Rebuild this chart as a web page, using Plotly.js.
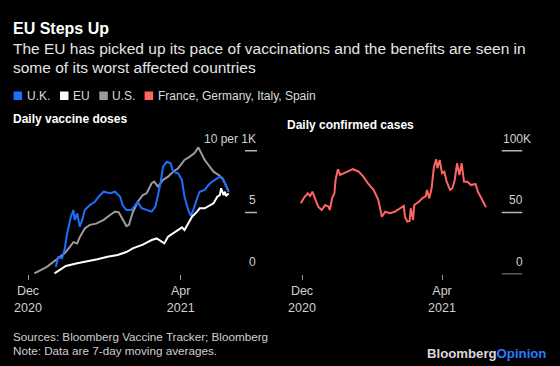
<!DOCTYPE html>
<html>
<head>
<meta charset="utf-8">
<script src="https://cdn.plot.ly/plotly-3.0.1.min.js"></script>
<style>
  html, body { margin: 0; padding: 0; background: #000; }
  #chart { width: 560px; height: 366px; }
</style>
</head>
<body>
<div id="chart"></div>
<script>
// ---------- DATA ----------
const seriesNames = ['U.K.', 'EU', 'U.S.', 'France, Germany, Italy, Spain'];
const seriesColors = ['#1f6fff', '#ffffff', '#9b9b9b', '#ff6464'];

// Daily vaccine doses per 1K people (7-day avg)
const ukDates = ['2020-12-23','2020-12-25','2020-12-28','2020-12-30','2021-01-01','2021-01-02','2021-01-04','2021-01-06','2021-01-07','2021-01-09','2021-01-11','2021-01-13','2021-01-15','2021-01-19','2021-01-23','2021-01-27','2021-01-30','2021-02-04','2021-02-08','2021-02-12','2021-02-14','2021-02-17','2021-02-21','2021-02-24','2021-02-26','2021-03-01','2021-03-05','2021-03-09','2021-03-12','2021-03-16','2021-03-18','2021-03-21','2021-03-24','2021-03-26','2021-03-30','2021-04-02','2021-04-04','2021-04-07','2021-04-09','2021-04-11','2021-04-14','2021-04-16','2021-04-20','2021-04-23','2021-04-26','2021-04-30','2021-05-02','2021-05-05','2021-05-07','2021-05-09'];
const ukValues = [0.6,1.4,1.3,2.0,3.3,3.85,4.66,5.2,4.4,4.93,3.85,4.4,5.2,5.6,5.87,6.4,6.68,6.55,6.68,6.28,5.6,5.2,5.2,5.6,5.87,5.34,5.2,5.07,5.47,7.36,8.7,9.1,8.98,8.3,8.17,7.63,6.28,5.2,4.72,5.2,6.15,6.68,6.82,7.22,7.5,7.77,7.9,7.63,7.09,6.68];

const euDates = ['2020-12-22','2020-12-26','2020-12-31','2021-01-09','2021-01-17','2021-01-25','2021-02-02','2021-02-10','2021-02-17','2021-02-22','2021-03-02','2021-03-09','2021-03-13','2021-03-17','2021-03-19','2021-03-22','2021-03-26','2021-03-30','2021-04-02','2021-04-04','2021-04-07','2021-04-10','2021-04-14','2021-04-16','2021-04-20','2021-04-24','2021-04-27','2021-04-30','2021-05-02','2021-05-03','2021-05-05','2021-05-06','2021-05-07','2021-05-09'];
const euValues = [0.08,0.35,0.67,0.89,1.02,1.21,1.42,1.56,1.8,2.1,2.4,2.77,2.9,2.64,2.5,3.04,3.3,3.58,3.8,3.58,4.13,4.66,5.07,5.34,5.34,5.6,5.74,6.28,6.4,6.96,6.4,6.68,6.33,6.55];

const usDates = ['2020-12-06','2020-12-11','2020-12-16','2020-12-21','2020-12-25','2020-12-30','2021-01-03','2021-01-06','2021-01-09','2021-01-11','2021-01-15','2021-01-19','2021-01-24','2021-01-30','2021-02-04','2021-02-08','2021-02-11','2021-02-14','2021-02-17','2021-02-19','2021-02-22','2021-02-26','2021-03-02','2021-03-05','2021-03-09','2021-03-11','2021-03-14','2021-03-18','2021-03-22','2021-03-26','2021-03-30','2021-04-02','2021-04-04','2021-04-08','2021-04-12','2021-04-15','2021-04-17','2021-04-20','2021-04-23','2021-04-27','2021-05-01','2021-05-04','2021-05-06','2021-05-09'];
const usValues = [0.08,0.35,0.6,1.0,1.3,1.7,2.2,2.6,2.5,3.0,3.7,4.0,4.1,4.4,4.8,5.07,5.0,4.5,3.9,4.0,5.0,5.87,6.4,6.55,7.36,7.5,7.09,7.63,7.9,8.3,8.58,8.98,9.25,9.5,9.8,10.27,9.9,9.25,8.84,8.3,8.03,7.77,7.36,6.68];

// Daily confirmed cases, thousands (France, Germany, Italy, Spain)
const casesDates = ['2020-11-30','2020-12-03','2020-12-06','2020-12-08','2020-12-10','2020-12-12','2020-12-15','2020-12-18','2020-12-21','2020-12-24','2020-12-25','2020-12-27','2020-12-29','2020-12-30','2021-01-01','2021-01-03','2021-01-06','2021-01-10','2021-01-14','2021-01-19','2021-01-23','2021-01-27','2021-02-01','2021-02-05','2021-02-08','2021-02-11','2021-02-15','2021-02-19','2021-02-24','2021-02-27','2021-02-28','2021-03-02','2021-03-04','2021-03-05','2021-03-07','2021-03-08','2021-03-12','2021-03-15','2021-03-18','2021-03-19','2021-03-21','2021-03-23','2021-03-25','2021-03-27','2021-03-28','2021-03-30','2021-04-01','2021-04-03','2021-04-05','2021-04-08','2021-04-10','2021-04-12','2021-04-14','2021-04-16','2021-04-18','2021-04-20','2021-04-23','2021-04-26','2021-04-30','2021-05-02','2021-05-05','2021-05-09'];
const casesValues = [57.4,62.3,65.5,63.3,66.8,62.3,54.7,52,56,54.7,52,61.5,65.5,76.3,85,80.3,81.7,83.8,85,83,79,73.6,68.2,60.1,46.6,50.6,49.4,50.6,53.4,55.3,46.6,42.6,43.1,53.4,43.9,56,58.7,61.5,63.3,68.2,61.5,69.6,87,93,85.8,92.5,81.7,83,74.9,68.2,69.6,76.3,89.8,80.3,89.8,74.9,74.9,72.2,73.1,66.8,61.5,54.2];

// Axis ticks
const xTickVals = ['2020-12-01', '2021-04-01'];
const xTickText = ['Dec<br>2020', 'Apr<br>2021'];
const leftTickVals = [0, 5, 10];
const leftTickText = ['0', '5', '10 per 1K'];
const leftTickLines = [5, 10];
const rightTickVals = [0, 50, 100];
const rightTickText = ['0', '50', '100'];
const rightTickSuffix = ['', '', 'K'];

// ---------- TEXT ----------
const titleText = 'EU Steps Up';
const subtitleLines = ['The EU has picked up its pace of vaccinations and the benefits are seen in', 'some of its worst affected countries'];
const leftPanelTitle = 'Daily vaccine doses';
const rightPanelTitle = 'Daily confirmed cases';
const footLines = ['Sources: Bloomberg Vaccine Tracker; Bloomberg', 'Note: Data are 7-day moving averages.'];

// ---------- LAYOUT HELPERS ----------
const W = 560, H = 366;
const px = x => x / W;
const py = y => (H - y) / H;
const FONT = '"Liberation Sans", Arial, Helvetica, sans-serif';

const traces = [
  {x: usDates, y: usValues, name: seriesNames[2], xaxis: 'x', yaxis: 'y',
   type: 'scatter', mode: 'lines', line: {color: seriesColors[2], width: 2}},
  {x: ukDates, y: ukValues, name: seriesNames[0], xaxis: 'x', yaxis: 'y',
   type: 'scatter', mode: 'lines', line: {color: seriesColors[0], width: 2}},
  {x: euDates, y: euValues, name: seriesNames[1], xaxis: 'x', yaxis: 'y',
   type: 'scatter', mode: 'lines', line: {color: seriesColors[1], width: 2}},
  {x: casesDates, y: casesValues, name: seriesNames[3], xaxis: 'x2', yaxis: 'y2',
   type: 'scatter', mode: 'lines', line: {color: seriesColors[3], width: 2}}
];

const yDomain = [py(274.3), py(138.3)];
const xAxisCommon = {
  type: 'date', showgrid: false, zeroline: false, showline: false,
  tickvals: xTickVals, ticktext: xTickText, ticks: 'outside', ticklen: 5,
  tickcolor: '#9a9a9a', tickwidth: 1,
  tickfont: {family: FONT, size: 12.5, color: '#d0d0d0'},
  range: ['2020-11-25', '2021-05-18'], fixedrange: true
};
const yAxisCommon = {
  showgrid: false, zeroline: false, showline: false, showticklabels: false,
  ticks: '', domain: yDomain, fixedrange: true
};

const shapes = [];
const annotations = [];

// y tick lines + labels (left)
leftTickLines.forEach(v => {
  shapes.push({type: 'line', xref: 'paper', yref: 'y', x0: px(245), x1: px(257), y0: v, y1: v,
               line: {color: '#b5b5b5', width: 1.5}});
});
leftTickVals.forEach((v, i) => {
  annotations.push({xref: 'paper', yref: 'y', x: px(257.5), y: v, xanchor: 'right', yanchor: 'middle',
    yshift: 12, text: leftTickText[i], showarrow: false,
    font: {family: FONT, size: 12, color: '#d0d0d0'}});
});
// right
rightTickVals.forEach((v, i) => {
  shapes.push({type: 'line', xref: 'paper', yref: 'y2', x0: px(501.7), x1: px(522.3), y0: v, y1: v,
               line: {color: '#b5b5b5', width: 1.5}});
  annotations.push({xref: 'paper', yref: 'y2', x: px(523.5), y: v, xanchor: 'right', yanchor: 'middle',
    yshift: 12, text: rightTickText[i], showarrow: false, borderpad: 0,
    font: {family: FONT, size: 12, color: '#d0d0d0'}});
  if (rightTickSuffix[i]) {
    annotations.push({xref: 'paper', yref: 'y2', x: px(521.5), y: v, xanchor: 'left', yanchor: 'middle',
      yshift: 12, text: rightTickSuffix[i], showarrow: false, borderpad: 0,
      font: {family: FONT, size: 12, color: '#d0d0d0'}});
  }
});

// Title / subtitle
annotations.push({xref: 'paper', yref: 'paper', x: px(11), y: py(28.6), xanchor: 'left', yanchor: 'middle',
  text: '<b>' + titleText + '</b>', showarrow: false, font: {family: FONT, size: 16, color: '#ffffff'}});
[48.2, 67.1].forEach((yy, i) => {
  annotations.push({xref: 'paper', yref: 'paper', x: px(11), y: py(yy), xanchor: 'left', yanchor: 'middle',
    text: subtitleLines[i], showarrow: false, font: {family: FONT, size: 15.5, color: '#e4e4e4'}});
});

// Legend (squares + labels)
const legendOrder = [0, 1, 2, 3];
const legendSquareX = [13.6, 60, 99.3, 144.6];
legendOrder.forEach((k, i) => {
  const x0 = legendSquareX[i];
  shapes.push({type: 'rect', xref: 'paper', yref: 'paper', x0: px(x0), x1: px(x0 + 8.5),
    y0: py(100), y1: py(91.5), fillcolor: seriesColors[k], line: {width: 0}});
  annotations.push({xref: 'paper', yref: 'paper', x: px(x0 + 11), y: py(95.7), xanchor: 'left', yanchor: 'middle',
    text: seriesNames[k], showarrow: false, font: {family: FONT, size: 12, color: '#dcdcdc'}});
});

// Panel titles
annotations.push({xref: 'paper', yref: 'paper', x: px(11), y: py(119), xanchor: 'left', yanchor: 'middle',
  text: '<b>' + leftPanelTitle + '</b>', showarrow: false, font: {family: FONT, size: 12, color: '#ffffff'}});
annotations.push({xref: 'paper', yref: 'paper', x: px(285), y: py(124.7), xanchor: 'left', yanchor: 'middle',
  text: '<b>' + rightPanelTitle + '</b>', showarrow: false, font: {family: FONT, size: 12, color: '#ffffff'}});

// Footer
[336.4, 350].forEach((yy, i) => {
  annotations.push({xref: 'paper', yref: 'paper', x: px(11), y: py(yy), xanchor: 'left', yanchor: 'middle',
    text: footLines[i], showarrow: false, font: {family: FONT, size: 11.7, color: '#cfcfcf'}});
});
annotations.push({xref: 'paper', yref: 'paper', x: px(548), y: py(353.5), xanchor: 'right', yanchor: 'middle',
  text: '<b><span style="color:#d9d9d9">Bloomberg</span><span style="color:#2a7bff">Opinion</span></b>',
  showarrow: false, font: {family: FONT, size: 13.2, color: '#d9d9d9'}});

const layout = {
  width: W, height: H,
  paper_bgcolor: '#000000', plot_bgcolor: '#000000',
  margin: {l: 0, r: 0, t: 0, b: 0},
  showlegend: false,
  xaxis: Object.assign({}, xAxisCommon, {domain: [px(20.43), px(240)], anchor: 'y'}),
  yaxis: Object.assign({}, yAxisCommon, {range: [0, 11], anchor: 'x'}),
  xaxis2: Object.assign({}, xAxisCommon, {domain: [px(295.06), px(496.4)], anchor: 'y2'}),
  yaxis2: Object.assign({}, yAxisCommon, {range: [0, 110], anchor: 'x2'}),
  shapes: shapes,
  annotations: annotations
};

Plotly.newPlot('chart', traces, layout, {displayModeBar: false, staticPlot: true});
</script>
</body>
</html>
